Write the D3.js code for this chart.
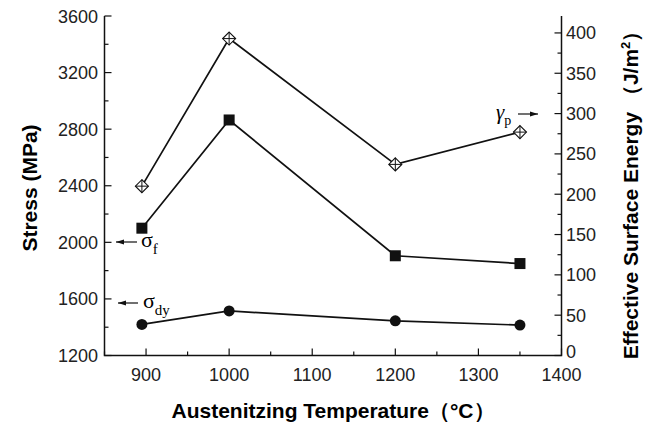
<!DOCTYPE html>
<html>
<head>
<meta charset="utf-8">
<script src="https://cdn.jsdelivr.net/npm/d3@7"></script>
<style>
  body { margin: 0; background: #fff; }
  svg { font-family: "Liberation Sans", Arial, sans-serif; }
</style>
</head>
<body>
<svg id="chart" width="649" height="427"></svg>
<script>
// data
var temps = [895, 1000, 1200, 1350];
var sigmaF = [2100, 2865, 1905, 1850];
var sigmaDy = [1420, 1515, 1445, 1415];
var gammaP = [210, 393, 237, 277];
var xTicks = [900, 1000, 1100, 1200, 1300, 1400];
var yLeftTicks = [1200, 1600, 2000, 2400, 2800, 3200, 3600];
var yRightTicks = [0, 50, 100, 150, 200, 250, 300, 350, 400];

var svg = d3.select("#chart");

var x = d3.scaleLinear().domain([850, 1400]).range([104.5, 561.5]);
var yL = d3.scaleLinear().domain([1200, 3600]).range([355.5, 16]);
var yR = d3.scaleLinear().domain([0, 421]).range([355.5, 16]);

var ink = "#111";

// axis lines
svg.append("path")
    .attr("d", "M" + x(850) + "," + yL(3600) + "V" + yL(1200) + "H" + x(1400) + "V" + yR(421))
    .attr("fill", "none").attr("stroke", ink).attr("stroke-width", 1.5);

// x ticks (inward)
var xMinor = d3.range(850, 1401, 50);
svg.selectAll(".xt").data(xMinor).enter().append("line")
    .attr("x1", d => x(d)).attr("x2", d => x(d))
    .attr("y1", yL(1200)).attr("y2", d => yL(1200) - (d % 100 === 0 ? 7 : 4))
    .attr("stroke", ink).attr("stroke-width", 1.2);
svg.selectAll(".xl").data(xTicks).enter().append("text")
    .attr("x", d => x(d)).attr("y", 381)
    .attr("text-anchor", "middle").attr("font-size", 18).attr("fill", "#222")
    .text(d => d);

// left ticks
var yLMinor = d3.range(1200, 3601, 200);
svg.selectAll(".ylt").data(yLMinor).enter().append("line")
    .attr("x1", x(850)).attr("x2", d => x(850) + (d % 400 === 0 ? 7 : 4))
    .attr("y1", d => yL(d)).attr("y2", d => yL(d))
    .attr("stroke", ink).attr("stroke-width", 1.2);
svg.selectAll(".yll").data(yLeftTicks).enter().append("text")
    .attr("x", 98).attr("y", d => yL(d) + 6.5)
    .attr("text-anchor", "end").attr("font-size", 18).attr("fill", "#222")
    .text(d => d);

// right ticks
var yRMinor = d3.range(0, 401, 25);
svg.selectAll(".yrt").data(yRMinor).enter().append("line")
    .attr("x1", x(1400)).attr("x2", d => x(1400) - (d % 50 === 0 ? 7 : 4))
    .attr("y1", d => yR(d)).attr("y2", d => yR(d))
    .attr("stroke", ink).attr("stroke-width", 1.2);
svg.selectAll(".yrl").data(yRightTicks).enter().append("text")
    .attr("x", 566).attr("y", d => yR(d) + (d === 0 ? 2 : 6.5))
    .attr("text-anchor", "start").attr("font-size", 18).attr("fill", "#222")
    .text(d => d);

// axis titles
svg.append("text")
    .attr("x", 333).attr("y", 418)
    .attr("text-anchor", "middle").attr("font-size", 21).attr("font-weight", "bold")
    .text("Austenitzing Temperature\uff08\u00b0C\uff09");
svg.append("text")
    .attr("transform", "translate(37,188) rotate(-90)")
    .attr("text-anchor", "middle").attr("font-size", 21).attr("font-weight", "bold")
    .text("Stress (MPa)");
var rt = svg.append("text")
    .attr("transform", "translate(638,190) rotate(-90)")
    .attr("text-anchor", "middle").attr("font-size", 21).attr("font-weight", "bold");
rt.append("tspan").text("Effective Surface Energy\u00a0\uff08J/m");
rt.append("tspan").attr("dy", -8).attr("font-size", 13).text("2");
rt.append("tspan").attr("dy", 8).text("\uff09");

// lines
var line = d3.line();
function drawLine(vals, ys) {
    svg.append("path")
        .attr("d", line(temps.map((t, i) => [x(t), ys(vals[i])])))
        .attr("fill", "none").attr("stroke", ink).attr("stroke-width", 1.7);
}
drawLine(gammaP, yR);
drawLine(sigmaF, yL);
drawLine(sigmaDy, yL);

// markers
svg.selectAll(".sq").data(temps).enter().append("rect")
    .attr("x", (d, i) => x(d) - 5.5).attr("y", (d, i) => yL(sigmaF[i]) - 5.5)
    .attr("width", 11).attr("height", 11).attr("fill", ink);
svg.selectAll(".ci").data(temps).enter().append("circle")
    .attr("cx", d => x(d)).attr("cy", (d, i) => yL(sigmaDy[i]))
    .attr("r", 5.5).attr("fill", ink);
var dm = svg.selectAll(".dm").data(temps).enter().append("g")
    .attr("transform", (d, i) => "translate(" + x(d) + "," + yR(gammaP[i]) + ")");
dm.append("path").attr("d", "M0,-6.5L6.5,0L0,6.5L-6.5,0Z")
    .attr("fill", "#fff").attr("stroke", ink).attr("stroke-width", 1.1);
dm.append("path").attr("d", "M0,-6.5V6.5M-6.5,0H6.5")
    .attr("stroke", ink).attr("stroke-width", 1);

// annotations
var serif = "'Liberation Serif', 'Times New Roman', serif";
function arrow(x1, x2, yy) {
    svg.append("line").attr("x1", x1).attr("x2", x2).attr("y1", yy).attr("y2", yy)
        .attr("stroke", ink).attr("stroke-width", 1.2);
    var dir = x2 > x1 ? 1 : -1;
    svg.append("path")
        .attr("d", "M" + x2 + "," + yy + "L" + (x2 - dir * 8) + "," + (yy - 2.5) + "L" + (x2 - dir * 8) + "," + (yy + 2.5) + "Z")
        .attr("fill", ink);
}
arrow(137, 116, 242);
var sf = svg.append("text").attr("x", 141).attr("y", 247).attr("font-family", serif).attr("font-size", 22);
sf.append("tspan").text("\u03c3");
sf.append("tspan").attr("dy", 7).attr("font-size", 15).text("f");

arrow(138, 118, 303);
var sd = svg.append("text").attr("x", 143).attr("y", 308).attr("font-family", serif).attr("font-size", 22);
sd.append("tspan").text("\u03c3");
sd.append("tspan").attr("dy", 7).attr("font-size", 15).text("dy");

arrow(518, 538, 114);
var gp = svg.append("text").attr("x", 496).attr("y", 119).attr("font-family", serif).attr("font-size", 21).attr("font-style", "italic");
gp.append("tspan").text("\u03b3");
gp.append("tspan").attr("dy", 6).attr("font-size", 14).attr("font-style", "normal").text("p");
</script>
</body>
</html>
